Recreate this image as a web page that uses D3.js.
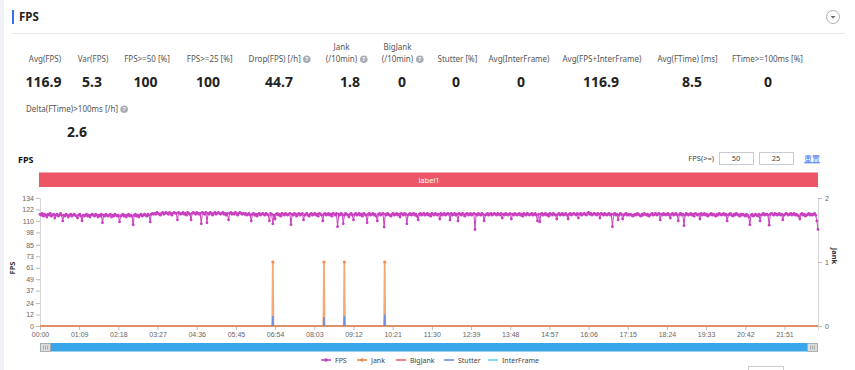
<!DOCTYPE html>
<html>
<head>
<meta charset="utf-8">
<script src="https://cdn.jsdelivr.net/npm/d3@7"></script>
<style>
  html, body { margin: 0; padding: 0; background: #fff; }
  svg { display: block; font-family: "Noto Sans", "Noto Sans CJK SC", sans-serif; }
</style>
</head>
<body>
<script>
// summary figures
var statLabels = ["Avg(FPS)", "Var(FPS)", "FPS>=50 [%]", "FPS>=25 [%]", "Drop(FPS) [/h]",
                  "Jank|(/10min)", "BigJank|(/10min)", "Stutter [%]", "Avg(InterFrame)",
                  "Avg(FPS+InterFrame)", "Avg(FTime) [ms]", "FTime>=100ms [%]"];
var statValues = ["116.9", "5.3", "100", "100", "44.7", "1.8", "0", "0", "0", "116.9", "8.5", "0"];
var statHelp   = [false, false, false, false, true, true, true, false, false, false, false, false];
var extraLabel = "Delta(FTime)>100ms [/h]";
var extraValue = "2.6";

// time axis (seconds), one FPS sample every 2 s
var sampleStep = 2;
var timeEnd    = 1370;
var timeTicks  = ["00:00","01:09","02:18","03:27","04:36","05:45","06:54","08:03","09:12","10:21",
                  "11:30","12:39","13:48","14:57","16:06","17:15","18:24","19:33","20:42","21:51"];
var fpsTicks   = [0, 12, 24, 37, 49, 61, 73, 85, 98, 110, 122, 134];
var jankTicks  = [0, 1, 2];

var fpsValues = [
  117,116,118,115,117,116,114,117,116,118,115,116,117,113,116,117,115,116,118,116,
  110,116,115,117,116,114,116,117,115,116,117,116,115,113,116,117,115,110,116,115,
  116,117,115,116,114,116,117,116,115,117,116,114,116,115,117,108,116,115,117,116,
  115,116,117,114,116,115,117,116,115,116,109,115,116,117,115,116,114,116,117,115,
  116,115,106,116,117,115,116,114,116,117,115,116,117,116,115,117,116,109,117,118,
  117,118,117,119,118,117,116,118,119,117,118,119,118,117,119,118,116,118,119,118,
  118,111,119,118,117,118,119,117,118,116,119,118,117,111,118,119,118,117,119,118,
  117,118,107,119,118,117,119,108,118,117,119,118,116,118,119,117,118,119,118,117,
  118,119,117,118,116,118,111,118,119,117,118,117,119,118,116,118,119,118,117,118,
  117,118,116,117,118,116,110,117,118,116,117,115,117,118,116,117,118,117,116,118,
  117,116,110,118,117,107,116,112,117,118,116,117,115,118,117,116,118,117,116,117,
  118,106,117,116,118,117,115,117,118,116,117,118,111,116,117,118,116,115,117,118,
  116,117,118,116,117,115,118,117,116,110,117,118,116,117,118,116,117,115,118,117,
  116,118,104,117,116,118,117,107,116,118,117,116,114,117,118,116,111,117,118,116,
  117,118,116,117,115,118,117,116,108,117,118,116,117,118,116,117,115,110,117,118,
  116,117,118,103.6,117,116,118,117,116,115,117,118,116,117,118,116,117,114,118,117,
  116,118,117,107,116,117,118,116,117,118,116,117,115,111,117,118,116,117,118,116,
  117,118,116,117,115,118,117,116,118,117,116,117,112,118,116,117,118,116,117,118,
  117,111,118,116,117,118,116,117,110,118,117,116,118,117,115,117,118,116,117,118,
  116,117,118,101,117,116,118,117,116,118,117,110,116,117,118,116,117,118,116,117,
  118,117,116,118,117,116,118,113,117,116,118,117,116,117,118,112,117,116,118,117,
  116,117,118,116,117,115,118,117,116,118,117,116,117,118,116,117,118,116,110,117,
  109,117,118,116,117,118,116,117,115,118,117,116,118,117,116,112,117,118,116,117,
  118,116,117,118,116,112,117,118,116,117,118,117,116,118,113,117,118,116,117,118,
  117,116,118,119,117,118,116,117,118,117,116,118,117,113,118,117,116,118,117,116,
  117,118,116,117,104,117,118,116,117,111,116,118,117,112,116,117,118,116,117,116,
  117,116,115,116,117,116,118,117,116,115,117,116,118,117,116,117,115,116,117,118,
  116,117,118,116,117,118,111,117,116,118,117,116,117,118,116,113,117,118,116,117,
  118,116,110,117,118,116,117,105,116,118,117,116,117,118,116,117,115,118,117,116,
  117,112,118,116,117,118,116,117,115,116,117,118,116,117,116,115,117,116,118,117,
  116,117,118,116,117,110,116,117,118,116,115,117,116,118,117,116,115,117,116,117,
  116,115,117,116,114,106,116,117,115,116,117,116,115,117,110,116,117,118,116,117,
  117,116,105.5,117,118,117,116,118,117,116,117,118,116,117,111,116,117,118,117,116,
  117,118,116,117,118,116,117,116,115,112,117,118,116,117,115,116,117,118,116,117,
  116,117,118,116,110,101
];

var jankTimes     = [410, 500, 536, 607];
var jankValues    = [1, 1, 1, 1];
var stutterValues = [10.5, 9.5, 10.5, 12];
var bigJankValues = [0, 0];
var interValues   = [0, 0];

var legendItems = ["FPS", "Jank", "BigJank", "Stutter", "InterFrame"];
var colors = { FPS: "#c93fc0", Jank: "#f58a4b", BigJank: "#e8646c", Stutter: "#6f8fdc", InterFrame: "#62d4ea" };

// layout
var w = 855, h = 370;
var plot = { left: 40, right: 818, top: 198, bottom: 326 };

var svg = d3.select("body").append("svg").attr("width", w).attr("height", h);

// page edge
svg.append("rect").attr("x", 0).attr("y", 0).attr("width", 4).attr("height", h).attr("fill", "#f0f2f5");

// header
svg.append("rect").attr("x", 12).attr("y", 10).attr("width", 2).attr("height", 14).attr("fill", "#3a6ff0");
svg.append("text").attr("x", 19).attr("y", 21).attr("font-size", 11.5).attr("font-weight", "bold")
   .attr("fill", "#222").text("FPS");
svg.append("circle").attr("cx", 833).attr("cy", 17).attr("r", 6.5)
   .attr("fill", "#fff").attr("stroke", "#999").attr("stroke-width", 0.8);
svg.append("path").attr("d", "M830.5,16 L835.5,16 L833,18.5 Z").attr("fill", "#666");
svg.append("line").attr("x1", 12).attr("x2", 845).attr("y1", 33.5).attr("y2", 33.5)
   .attr("stroke", "#e9e9e9");

// stats row
var labelX = [45, 93, 147, 209.7, 274.7, 341.5, 397.5, 457.5, 519, 602, 687.5, 767.5];
var valueX = [43.5, 92, 145.5, 208, 279, 350, 402, 456, 521, 601, 692, 768];

function helpIcon(x, y) {
  svg.append("circle").attr("cx", x).attr("cy", y).attr("r", 3.8).attr("fill", "#a9adb3");
  svg.append("text").attr("x", x).attr("y", y + 2.2).attr("text-anchor", "middle")
     .attr("font-size", 6).attr("font-weight", "bold").attr("fill", "#fff").text("?");
}

statLabels.forEach(function(lab, i) {
  var parts = lab.split("|");
  var lines = parts.length === 2 ? [[parts[0], 50], [parts[1], 62]] : [[parts[0], 62]];
  lines.forEach(function(l, j) {
    var t = svg.append("text").attr("x", labelX[i]).attr("y", l[1]).attr("text-anchor", "middle")
       .attr("font-size", 8).attr("fill", "#555").text(l[0]);
    if (statHelp[i] && j === lines.length - 1) {
      var bb = t.node().getBBox();
      helpIcon(bb.x + bb.width + 6, l[1] - 2.8);
    }
  });
  svg.append("text").attr("x", valueX[i]).attr("y", 86.5).attr("text-anchor", "middle")
     .attr("font-size", 14).attr("font-weight", "bold").attr("fill", "#222").text(statValues[i]);
});

var et = svg.append("text").attr("x", 26).attr("y", 112).attr("font-size", 8)
   .attr("fill", "#555").text(extraLabel);
var ebb = et.node().getBBox();
helpIcon(ebb.x + ebb.width + 6, 109.2);
svg.append("text").attr("x", 77).attr("y", 136.5).attr("text-anchor", "middle")
   .attr("font-size", 14).attr("font-weight", "bold").attr("fill", "#222").text(extraValue);

// chart header
svg.append("text").attr("x", 18).attr("y", 163).attr("font-size", 9).attr("font-weight", "bold")
   .attr("fill", "#111").text("FPS");
svg.append("text").attr("x", 714).attr("y", 161).attr("text-anchor", "end")
   .attr("font-size", 7.5).attr("fill", "#444").text("FPS(>=)");
[["50", 719], ["25", 759]].forEach(function(b) {
  svg.append("rect").attr("x", b[1] + 0.5).attr("y", 152.5).attr("width", 34).attr("height", 12)
     .attr("fill", "#fff").attr("stroke", "#c8ccd2");
  svg.append("text").attr("x", b[1] + 17).attr("y", 161).attr("text-anchor", "middle")
     .attr("font-size", 7.5).attr("fill", "#444").text(b[0]);
});
svg.append("text").attr("x", 812).attr("y", 161.5).attr("text-anchor", "middle")
   .attr("font-size", 8).attr("fill", "#4a78f0").attr("text-decoration", "underline").text("重置");

// label band
svg.append("rect").attr("x", plot.left - 1).attr("y", 172).attr("width", plot.right - plot.left + 1)
   .attr("height", 15).attr("fill", "#ec5665");
svg.append("rect").attr("x", plot.left - 1).attr("y", 172).attr("width", plot.right - plot.left + 1)
   .attr("height", 1).attr("fill", "#f6a9b0");
svg.append("text").attr("x", (plot.left + plot.right) / 2).attr("y", 182.5).attr("text-anchor", "middle")
   .attr("font-size", 7.5).attr("fill", "#fff").text("label1");

// scales
var x = d3.scaleLinear().domain([0, timeEnd]).range([plot.left, plot.right]);
var yL = d3.scaleLinear().domain([0, 134]).range([plot.bottom, plot.top]);
var yR = d3.scaleLinear().domain([0, 2]).range([plot.bottom, plot.top]);

function parseMMSS(s) { var p = s.split(":"); return (+p[0]) * 60 + (+p[1]); }

// axes
var axL = svg.append("g").attr("transform", "translate(" + plot.left + ",0)")
  .call(d3.axisLeft(yL).tickValues(fpsTicks).tickSize(4).tickPadding(2).tickFormat(d3.format("d")));
var axR = svg.append("g").attr("transform", "translate(" + plot.right + ",0)")
  .call(d3.axisRight(yR).tickValues(jankTicks).tickSize(4).tickPadding(3).tickFormat(d3.format("d")));
var axB = svg.append("g").attr("transform", "translate(0," + plot.bottom + ")")
  .call(d3.axisBottom(x).tickValues(timeTicks.map(parseMMSS)).tickSize(4).tickPadding(2)
        .tickFormat(function(d, i) { return timeTicks[i]; }));
[axL, axR, axB].forEach(function(a) {
  a.selectAll("text").attr("font-size", 7).attr("fill", "#666").attr("font-family", null);
  a.selectAll("line").attr("stroke", "#bbb");
  a.select(".domain").attr("stroke", "#d6d6d6");
});

svg.append("text").attr("transform", "translate(15,268) rotate(-90)").attr("text-anchor", "middle")
   .attr("font-size", 7.5).attr("font-weight", "bold").attr("fill", "#333").text("FPS");
svg.append("text").attr("transform", "translate(832,256) rotate(90)").attr("text-anchor", "middle")
   .attr("font-size", 7.5).attr("font-weight", "bold").attr("fill", "#333").text("Jank");

// series
var lineL = d3.line().x(function(d) { return x(d[0]); }).y(function(d) { return yL(d[1]); });
var lineR = d3.line().x(function(d) { return x(d[0]); }).y(function(d) { return yR(d[1]); });

svg.append("path").datum([[0, interValues[0]], [timeEnd, interValues[1]]]).attr("d", lineL)
   .attr("fill", "none").attr("stroke", colors.InterFrame).attr("stroke-width", 1.5);
svg.append("path").datum([[0, bigJankValues[0]], [timeEnd, bigJankValues[1]]]).attr("d", lineL)
   .attr("fill", "none").attr("stroke", colors.BigJank).attr("stroke-width", 1.5);

// jank spikes on right axis
var jankPts = [[0, 0]];
jankTimes.forEach(function(t, i) { jankPts.push([t - 1, 0], [t, jankValues[i]], [t + 1, 0]); });
jankPts.push([timeEnd, 0]);
svg.append("path").datum(jankPts).attr("d", lineR)
   .attr("fill", "none").attr("stroke", colors.Jank).attr("stroke-width", 1.8).attr("stroke-opacity", 0.75);
svg.selectAll("circle.jank").data(jankTimes).enter().append("circle").attr("class", "jank")
   .attr("cx", function(d) { return x(d); }).attr("cy", function(d, i) { return yR(jankValues[i]); })
   .attr("r", 1.6).attr("fill", colors.Jank);
svg.append("path").datum([[0, 0], [timeEnd, 0]]).attr("d", lineR)
   .attr("fill", "none").attr("stroke", "#e09066").attr("stroke-width", 2);

// stutter spikes drawn over the jank spikes
jankTimes.forEach(function(t, i) {
  svg.append("path").datum([[t - 0.6, 0], [t, stutterValues[i]], [t + 0.6, 0]]).attr("d", lineL)
     .attr("fill", "none").attr("stroke", colors.Stutter).attr("stroke-width", 1.6);
});

// fps line with markers
var fpsLine = d3.line().x(function(d, i) { return x(i * sampleStep); }).y(function(d) { return yL(d); });
svg.append("path").datum(fpsValues).attr("d", fpsLine)
   .attr("fill", "none").attr("stroke", colors.FPS).attr("stroke-width", 1);
svg.selectAll("circle.fps").data(fpsValues).enter().append("circle").attr("class", "fps")
   .attr("cx", function(d, i) { return x(i * sampleStep); }).attr("cy", function(d) { return yL(d); })
   .attr("r", 1.4).attr("fill", colors.FPS);

// zoom slider
svg.append("rect").attr("x", plot.left).attr("y", 343).attr("width", plot.right - plot.left)
   .attr("height", 8.5).attr("fill", "#3aa6ea");
[plot.left, plot.right - 11].forEach(function(hx) {
  svg.append("rect").attr("x", hx + 0.5).attr("y", 343.5).attr("width", 10).attr("height", 8)
     .attr("fill", "#dcdcdc").attr("stroke", "#aaa").attr("stroke-width", 0.8);
  [3.5, 5.5, 7.5].forEach(function(o) {
    svg.append("line").attr("x1", hx + o).attr("x2", hx + o).attr("y1", 345.5).attr("y2", 349.5)
       .attr("stroke", "#888").attr("stroke-width", 0.6);
  });
});

// legend
var legendX = [321, 357, 396, 444, 488];
legendItems.forEach(function(name, i) {
  var lx = legendX[i];
  svg.append("line").attr("x1", lx).attr("x2", lx + 10).attr("y1", 360).attr("y2", 360)
     .attr("stroke", colors[name]).attr("stroke-width", 1.6);
  if (name === "FPS" || name === "Jank") {
    svg.append("circle").attr("cx", lx + 5).attr("cy", 360).attr("r", 1.8).attr("fill", colors[name]);
  }
  svg.append("text").attr("x", lx + 14).attr("y", 362.5).attr("font-size", 7)
     .attr("fill", "#444").text(name);
});

// next panel edge peeking in
svg.append("rect").attr("x", 748.5).attr("y", 366.5).attr("width", 35).attr("height", 12)
   .attr("fill", "#fff").attr("stroke", "#ccc");
</script>
</body>
</html>
